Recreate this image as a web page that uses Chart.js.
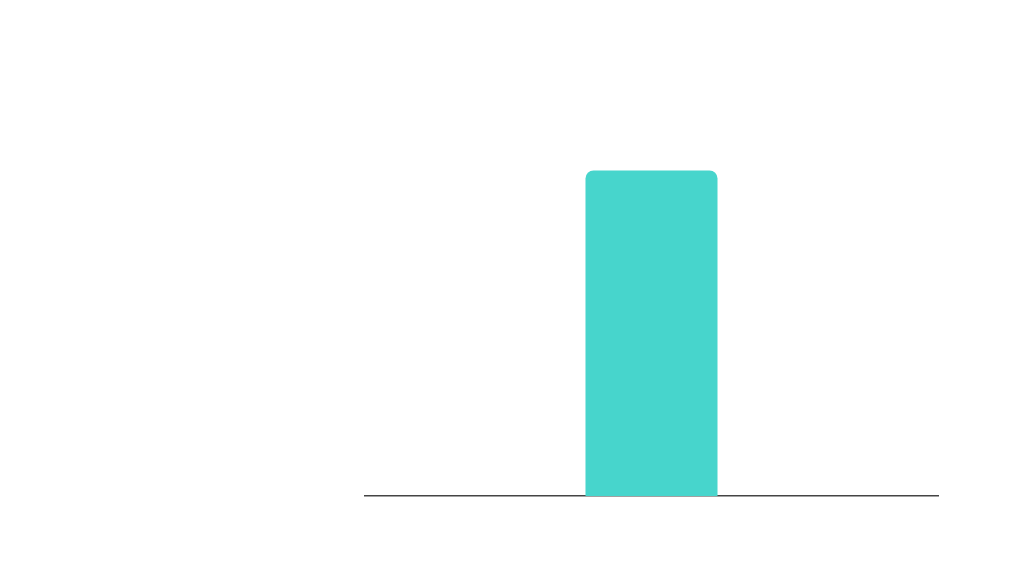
<!DOCTYPE html>
<html>
<head>
<meta charset="utf-8">
<script src="https://cdn.jsdelivr.net/npm/chart.js@4/dist/chart.umd.min.js"></script>
<style>
html,body{margin:0;padding:0;background:#fff;}
#wrap{width:1024px;height:585px;position:relative;}
</style>
</head>
<body>
<div id="wrap"><canvas id="c"></canvas></div>
<script>
const categories = ['A'];
const values = [80];
const yMax = 100;

new Chart(document.getElementById('c'), {
  type: 'bar',
  data: {
    labels: categories,
    datasets: [{
      data: values,
      backgroundColor: '#47D5CC',
      borderRadius: 8,
      borderSkipped: 'start',
      barPercentage: 0.2304,
      categoryPercentage: 1
    }]
  },
  options: {
    responsive: true,
    maintainAspectRatio: false,
    animation: false,
    layout: { padding: { left: 365, right: 86, top: 89, bottom: 81 } },
    plugins: { legend: { display: false }, tooltip: { enabled: false } },
    scales: {
      x: {
        grid: { display: false },
        ticks: { display: false },
        border: { display: true, color: '#444444', width: 1.5 }
      },
      y: {
        display: false,
        min: 0,
        max: yMax
      }
    }
  }
});
</script>
</body>
</html>
